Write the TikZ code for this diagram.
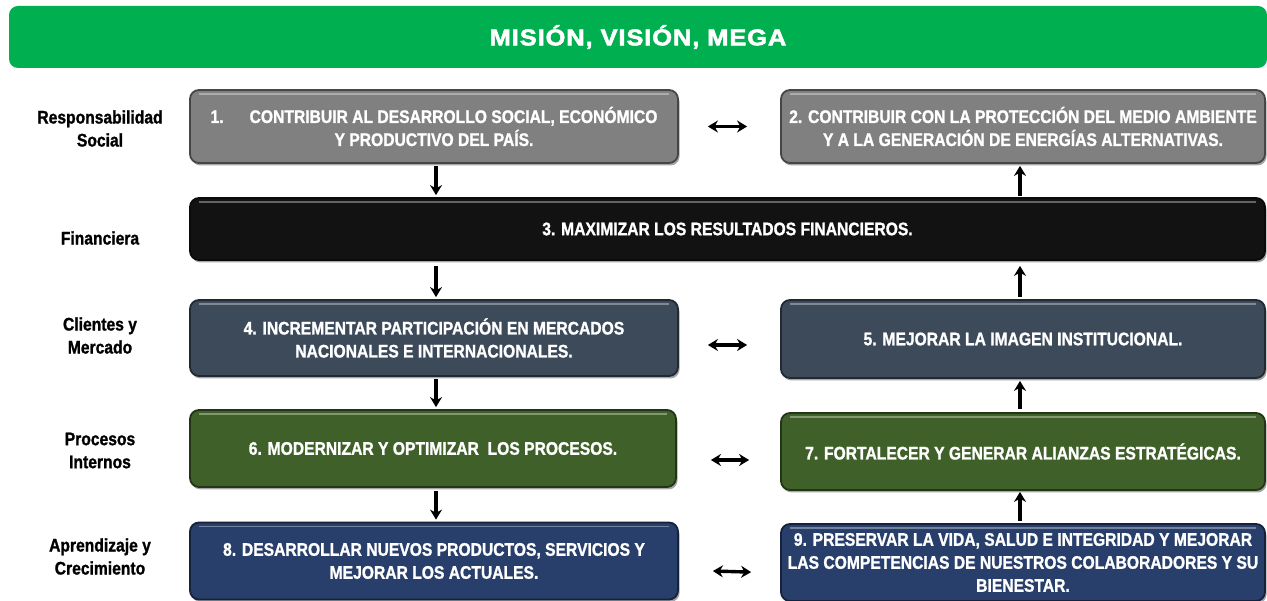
\documentclass[tikz,border=0pt]{standalone}
\usepackage{fontspec}
\setmainfont{Liberation Sans}
\newfontfamily\narfont{Liberation Sans}[FakeStretch=0.86, BoldFeatures={FakeBold=1.2}]
\newfontfamily\ttlfont{Liberation Sans}[FakeStretch=1.12, LetterSpace=4, BoldFeatures={FakeBold=2.5}]
\usetikzlibrary{arrows.meta,shadows}
\definecolor{bgray}{RGB}{128,128,128}
\definecolor{bblack}{RGB}{18,18,18}
\definecolor{bslate}{RGB}{60,74,90}
\definecolor{bgreen}{RGB}{63,97,41}
\definecolor{bblue}{RGB}{40,62,107}
\definecolor{banner}{RGB}{0,176,80}
\tikzset{
  objbox/.style={rounded corners=9pt, fill=#1, draw=#1!55!black, line width=1.8pt,
    text=white, font=\narfont\bfseries\fontsize{18.2}{23}\selectfont, align=center, inner sep=0pt,
    drop shadow={shadow xshift=1.5pt, shadow yshift=-2.5pt, opacity=.35, fill=black},
    path picture={\draw[white, opacity=.35, line width=1.6pt]
      ([xshift=9pt,yshift=-4pt]path picture bounding box.north west) --
      ([xshift=-9pt,yshift=-4pt]path picture bounding box.north east);}},
  rowlabel/.style={font=\narfont\bfseries\fontsize{18.2}{23}\selectfont, align=center, text=black},
  flow/.style={line width=3.4pt, -{Stealth[length=10pt,width=12pt]}},
  both/.style={line width=3.4pt, {Stealth[length=10pt,width=12pt]}-{Stealth[length=10pt,width=12pt]}}
}
\begin{document}
\begin{tikzpicture}[x=1pt,y=-1pt]
\useasboundingbox (0,0) rectangle (1267,601);
\node[fill=banner, rounded corners=9pt, minimum width=1258pt, minimum height=62pt, inner sep=0pt,
  text=white, font=\ttlfont\bfseries\fontsize{22.7}{24}\selectfont] (title) at (638,37) {MISIÓN, VISIÓN, MEGA};

\node[rowlabel] (l1) at (100,128.5) {Responsabilidad\\Social};
\node[rowlabel] (l2) at (100,238) {Financiera};
\node[rowlabel] (l3) at (100,335.5) {Clientes y\\Mercado};
\node[rowlabel] (l4) at (100,450.5) {Procesos\\Internos};
\node[rowlabel] (l5) at (100,556.5) {Aprendizaje y\\Crecimiento};

\node[objbox=bgray, minimum width=488pt, minimum height=73pt] (b1) at (434,126.5)
  {1.\hspace{26pt}CONTRIBUIR AL DESARROLLO SOCIAL, ECONÓMICO\\Y PRODUCTIVO DEL PAÍS.};
\node[objbox=bgray, minimum width=484pt, minimum height=73pt] (b2) at (1023,126.5)
  {2. CONTRIBUIR CON LA PROTECCIÓN DEL MEDIO AMBIENTE\\Y A LA GENERACIÓN DE ENERGÍAS ALTERNATIVAS.};
\node[objbox=bblack, minimum width=1075pt, minimum height=62pt] (b3) at (727.5,229)
  {3. MAXIMIZAR LOS RESULTADOS FINANCIEROS.};
\node[objbox=bslate, minimum width=488pt, minimum height=76pt] (b4) at (434,338)
  {4. INCREMENTAR PARTICIPACIÓN EN MERCADOS\\NACIONALES E INTERNACIONALES.};
\node[objbox=bslate, minimum width=484pt, minimum height=78pt] (b5) at (1023,339)
  {5. MEJORAR LA IMAGEN INSTITUCIONAL.};
\node[objbox=bgreen, minimum width=486pt, minimum height=77pt] (b6) at (433,448.5)
  {6. MODERNIZAR Y OPTIMIZAR\ \ LOS PROCESOS.};
\node[objbox=bgreen, minimum width=484pt, minimum height=77pt] (b7) at (1023,451.5)
  {7. FORTALECER Y GENERAR ALIANZAS ESTRATÉGICAS.};
\node[objbox=bblue, minimum width=488pt, minimum height=77pt] (b8) at (434,561)
  {8. DESARROLLAR NUEVOS PRODUCTOS, SERVICIOS Y\\MEJORAR LOS ACTUALES.};
\node[objbox=bblue, minimum width=484pt, minimum height=77pt] (b9) at (1023,562.5)
  {9. PRESERVAR LA VIDA, SALUD E INTEGRIDAD Y MEJORAR\\LAS COMPETENCIAS DE NUESTROS COLABORADORES Y SU\\BIENESTAR.};

% down arrows (left column)
\draw[flow, shorten <=2pt, shorten >=2pt] ([xshift=2pt]b1.south) -- ([xshift=2pt]b1.south |- b3.north);
\draw[flow, shorten <=5pt, shorten >=2pt] ([xshift=2pt]b1.south |- b3.south) -- ([xshift=2pt]b4.north);
\draw[flow, shorten <=2pt, shorten >=2pt] ([xshift=2pt]b4.south) -- ([xshift=2pt]b4.south |- b6.north);
\draw[flow, shorten <=3pt, shorten >=2pt] ([xshift=2pt]b4.south |- b6.south) -- ([xshift=2pt]b8.north);
% up arrows (right column)
\draw[flow, shorten <=1pt, shorten >=2pt] ([xshift=-3pt]b2.south |- b3.north) -- ([xshift=-3pt]b2.south);
\draw[flow, shorten <=2pt, shorten >=5pt] ([xshift=-3pt]b5.north) -- ([xshift=-3pt]b5.north |- b3.south);
\draw[flow, shorten <=3pt, shorten >=2pt] ([xshift=-3pt]b7.north) -- ([xshift=-3pt]b5.south);
\draw[flow, shorten <=2pt, shorten >=1pt] ([xshift=-3pt]b9.north) -- ([xshift=-3pt]b7.south);
% double arrows
\draw[both, shorten <=29pt, shorten >=33pt] (b1.east) -- (b2.west);
\draw[both, shorten <=29pt, shorten >=33pt] ([yshift=-7pt]b4.east) -- ([yshift=-6pt]b5.west);
\draw[both, shorten <=34pt, shorten >=31pt] ([yshift=-11.5pt]b6.east) -- ([yshift=-8.5pt]b7.west);
\draw[both, shorten <=34pt, shorten >=29pt] ([yshift=-9pt]b8.east) -- ([yshift=-10.5pt]b9.west);
\end{tikzpicture}
\end{document}
